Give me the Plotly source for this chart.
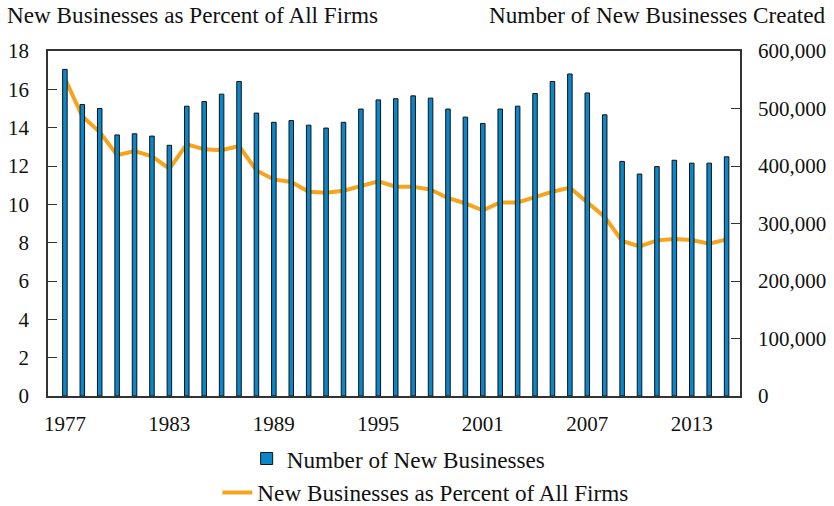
import plotly.graph_objects as go

years = list(range(1977, 2016))
new_businesses = [568000, 507000, 500000, 454000, 456000, 452000, 436000, 504000, 512000, 525000,
                  547000, 492000, 476000, 479000, 471000, 466000, 476000, 499000, 515000, 517000,
                  522000, 518000, 499000, 485000, 474000, 499000, 504000, 526000, 547000, 560000,
                  527000, 489000, 408000, 386000, 399000, 410000, 405000, 405000, 416000]
pct_of_firms = [16.56, 14.59, 13.77, 12.56, 12.78, 12.50, 11.86, 13.13, 12.87, 12.82,
                13.04, 11.77, 11.30, 11.17, 10.66, 10.61, 10.71, 10.96, 11.20, 10.92,
                10.92, 10.77, 10.33, 10.05, 9.69, 10.10, 10.10, 10.38, 10.66, 10.87,
                10.12, 9.34, 8.09, 7.81, 8.12, 8.19, 8.14, 7.95, 8.17]
x_ticks = [1977, 1983, 1989, 1995, 2001, 2007, 2013]
left_ticks = [0, 2, 4, 6, 8, 10, 12, 14, 16, 18]
right_ticks = [0, 100000, 200000, 300000, 400000, 500000, 600000]
right_labels = ["0", "100,000", "200,000", "300,000", "400,000", "500,000", "600,000"]

FONT = "Liberation Serif"
TICK = 21
TXT = 23.2
fig = go.Figure()
fig.add_trace(go.Bar(
    x=years, y=new_businesses, name="Number of New Businesses", yaxis="y2",
    width=0.26, marker=dict(color="#0A87CB", line=dict(color="#111111", width=1)),
    legend="legend",
))
fig.add_trace(go.Scatter(
    x=years, y=pct_of_firms, name="New Businesses as Percent of All Firms", yaxis="y",
    mode="lines", line=dict(color="#F7A31C", width=4), legend="legend2",
))

axis_common = dict(showgrid=False, zeroline=False, linecolor="#333333", linewidth=1.5,
                   tickfont=dict(family=FONT, size=TICK, color="#111111"))
fig.update_layout(
    width=834, height=506,
    margin=dict(l=48, r=94, t=51, b=110, autoexpand=False),
    plot_bgcolor="white", paper_bgcolor="white",
    font=dict(family=FONT, size=TICK, color="#111111"),
    showlegend=True,
    xaxis=dict(range=[1976.03, 2015.77], tickmode="array", tickvals=x_ticks, ticks="",
               showline=True, mirror=True, ticklabelstandoff=8, **axis_common),
    yaxis=dict(range=[0, 18], tickmode="array", tickvals=left_ticks, ticks="inside", ticklen=9,
               tickcolor="#333333", showline=True, ticklabelstandoff=13, **axis_common),
    yaxis2=dict(range=[0, 600000], overlaying="y", side="right", tickmode="array",
                tickvals=right_ticks, ticktext=right_labels, ticks="inside", ticklen=9,
                tickcolor="#333333", showline=True, ticklabelstandoff=12, **axis_common),
    legend=dict(xref="container", yref="container", x=0.478, y=0.093,
                xanchor="center", yanchor="middle", orientation="h",
                font=dict(family=FONT, size=TXT, color="#111111"), bgcolor="rgba(0,0,0,0)"),
    legend2=dict(xref="container", yref="container", x=0.510, y=0.026,
                 xanchor="center", yanchor="middle", orientation="h",
                 font=dict(family=FONT, size=TXT, color="#111111"), bgcolor="rgba(0,0,0,0)"),
    annotations=[
        dict(text="New Businesses as Percent of All Firms", xref="paper", yref="paper",
             x=-0.0621, y=1.104, xanchor="left", yanchor="middle", showarrow=False,
             font=dict(family=FONT, size=TXT)),
        dict(text="Number of New Businesses Created", xref="paper", yref="paper",
             x=1.127, y=1.104, xanchor="right", yanchor="middle", showarrow=False,
             font=dict(family=FONT, size=TXT)),
    ],
)
fig.write_html("out.html", config={"displayModeBar": False},
               post_script="document.body.style.margin='0';document.body.style.overflow='hidden';")
